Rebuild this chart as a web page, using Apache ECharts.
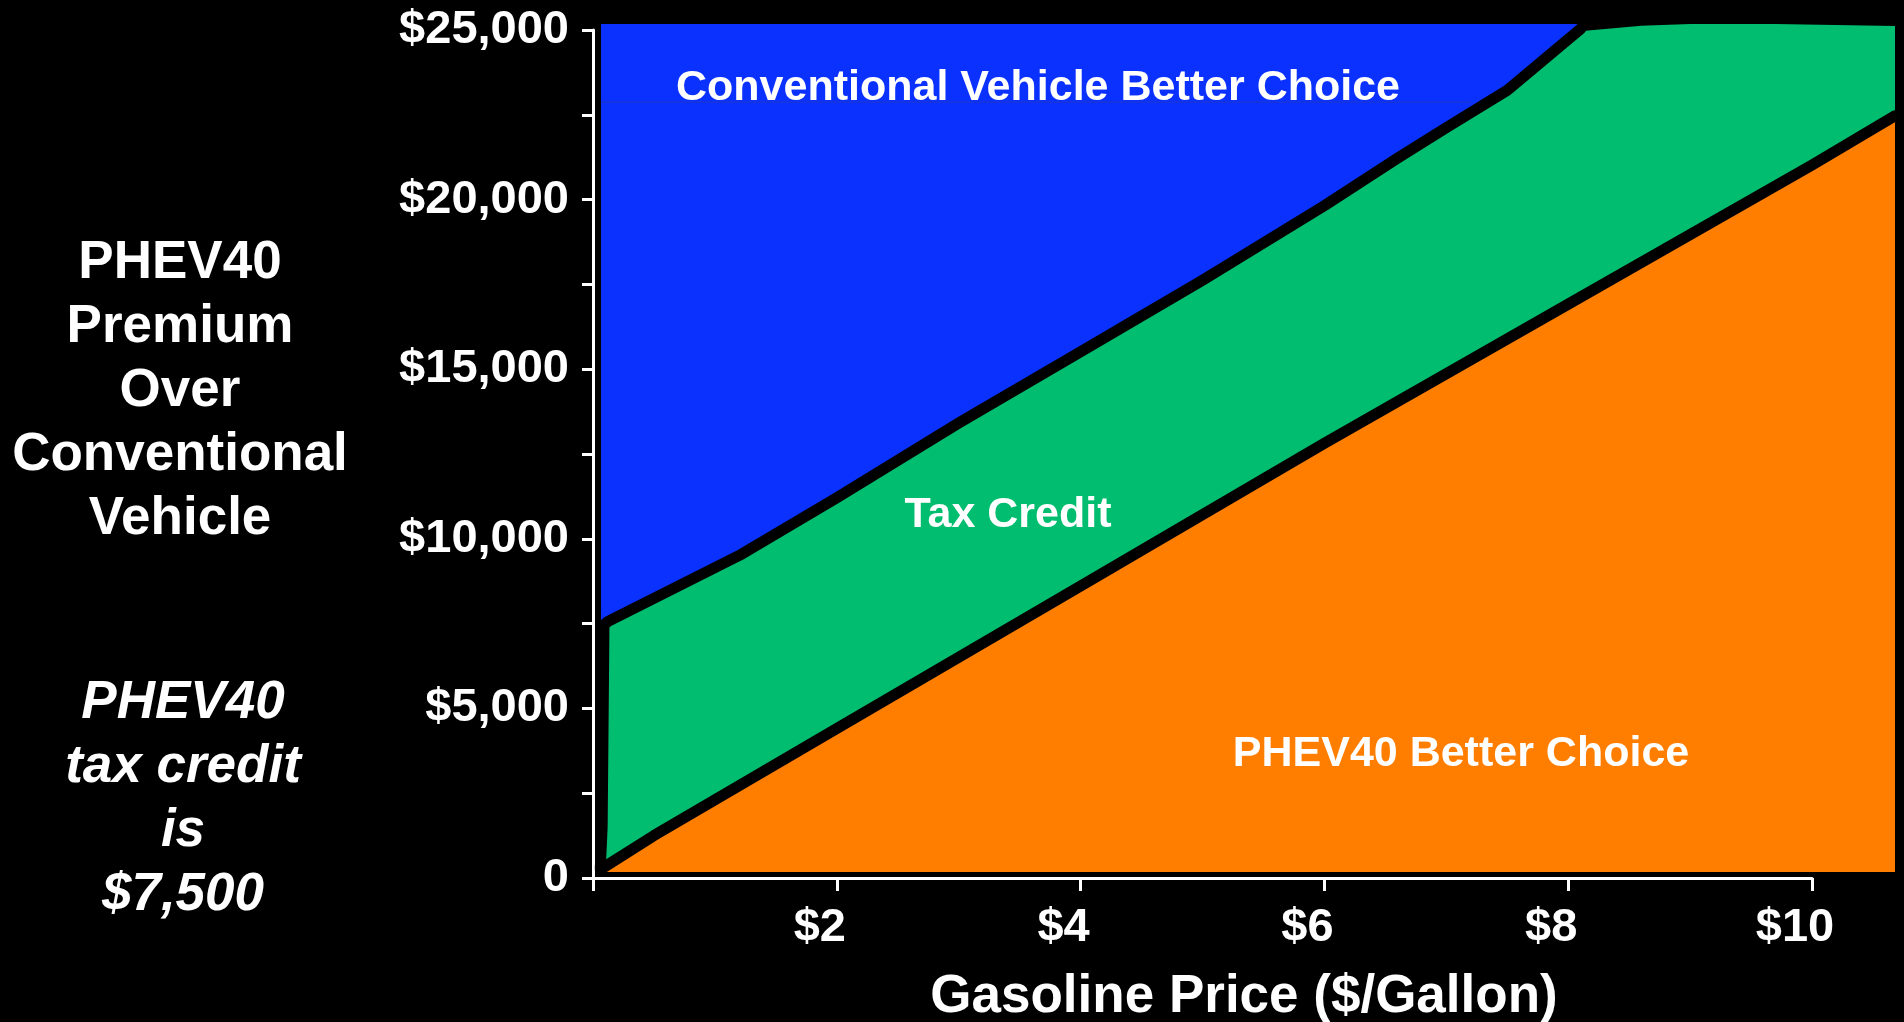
<!DOCTYPE html>
<html>
<head>
<meta charset="utf-8">
<script src="https://cdn.jsdelivr.net/npm/echarts@6/dist/echarts.min.js"></script>
<style>
html,body{margin:0;padding:0;background:#000;}
#chart{width:1904px;height:1022px;}
</style>
</head>
<body>
<div id="chart"></div>
<script>
// ---- Data (x = gasoline price $/gal, y = PHEV40 premium $) ----
const xTickValues = [0, 2, 4, 6, 8, 10];
const yTickValues = [0, 5000, 10000, 15000, 20000, 25000];

// left (vertical) edge of the tax-credit band
const edgeX = [0.06, 0.075, 0.09];
const edgeY = [300, 1500, 7450];

// upper boundary: conventional vehicle better choice above this line
const upperX = [0.12, 1.2, 2.0, 3.0, 4.0, 5.0, 6.0, 6.6, 7.0, 7.5, 8.1, 8.13];
const upperY = [7550, 9500, 11200, 13400, 15500, 17600, 19800, 21200, 22100, 23200, 25000, 25150];

// top of the green band beyond the upper line
const greenTopX = [8.14, 8.6, 9.0, 9.7, 10.68];
const greenTopY = [24950, 25100, 25150, 25150, 25090];

// lower boundary: PHEV40 better choice below this line
const lowerX = [0.06, 0.5, 2.0, 4.0, 6.0, 8.0, 10.0, 10.68];
const lowerY = [250, 1250, 4400, 8600, 12800, 16900, 21000, 22450];

// faint line inside the blue region
const faintX = [0.07, 7.2];
const faintY = [22850, 22850];

const zip = (xs, ys) => xs.map((x, i) => [x, ys[i]]);

const FONT = '"Liberation Sans", Arial, Helvetica, sans-serif';
const BLUE = '#0B31FF', GREEN = '#01BD6F', ORANGE = '#FF7E00';

const blueFill = [[0.066, 7550]].concat(zip(upperX, upperY));
const greenFill = zip(edgeX, edgeY).concat(zip(upperX, upperY), zip(greenTopX, greenTopY));
const orangeFill = [[0.05, 180]].concat(zip(lowerX, lowerY));
const upperLine = zip(edgeX, edgeY).concat(zip(upperX, upperY));
const lowerLine = zip(lowerX, lowerY);

const chart = echarts.init(document.getElementById('chart'), null, {renderer: 'canvas'});

const areaSeries = (data, color, origin) => ({
  type: 'line', xAxisIndex: 1, yAxisIndex: 1, data: data,
  symbol: 'none', silent: true,
  lineStyle: {width: 0, color: color},
  areaStyle: {color: color, opacity: 1, origin: origin}
});
const blackLine = (data) => ({
  type: 'line', xAxisIndex: 1, yAxisIndex: 1, data: data,
  symbol: 'none', silent: true,
  lineStyle: {width: 11, color: '#000', cap: 'round', join: 'round'}
});

const option = {
  backgroundColor: '#000',
  animation: false,
  grid: [
    {left: 593, right: 92, top: 30, bottom: 144},
    {left: 593, right: 9, top: 24, bottom: 144}
  ],
  xAxis: [
    {
      type: 'value', gridIndex: 0, min: 0, max: 10, interval: 2,
      axisLine: {show: true, lineStyle: {color: '#fff', width: 3}},
      axisTick: {show: true, length: 13, lineStyle: {color: '#fff', width: 3}},
      splitLine: {show: false},
      axisLabel: {
        color: '#fff', fontSize: 47, fontWeight: 'bold', fontFamily: FONT, margin: 27,
        padding: [0, 34, 0, 0],
        formatter: v => (xTickValues.indexOf(v) > 0 ? '$' + v : '')
      }
    },
    {type: 'value', gridIndex: 1, min: 0, max: 10.68, show: false}
  ],
  yAxis: [
    {
      type: 'value', gridIndex: 0, min: 0, max: 25000, interval: 2500,
      axisLine: {show: true, lineStyle: {color: '#fff', width: 3}},
      axisTick: {show: true, length: 11, lineStyle: {color: '#fff', width: 3}},
      splitLine: {show: false},
      axisLabel: {
        color: '#fff', fontSize: 47, fontWeight: 'bold', fontFamily: FONT, margin: 24,
        padding: [8, 0, 0, 0],
        showMinLabel: true, showMaxLabel: true,
        formatter: v => {
          if (yTickValues.indexOf(v) < 0) return '';
          return v === 0 ? '0' : '$' + v.toLocaleString('en-US');
        }
      }
    },
    {type: 'value', gridIndex: 1, min: 0, max: 25150, show: false}
  ],
  series: [
    areaSeries(blueFill, BLUE, 'end'),
    areaSeries(greenFill, GREEN, 180),
    areaSeries(orangeFill, ORANGE, 180),
    {
      type: 'line', xAxisIndex: 1, yAxisIndex: 1, data: zip(faintX, faintY),
      symbol: 'none', silent: true, lineStyle: {width: 1, color: '#2238c4'}
    },
    blackLine(upperLine),
    blackLine(lowerLine)
  ],
  graphic: [
    {type: 'text', x: 180, y: 391, style: {
      text: 'PHEV40\nPremium\nOver\nConventional\nVehicle', fill: '#fff',
      font: 'bold 53px ' + FONT, lineHeight: 64, align: 'center', verticalAlign: 'middle'}},
    {type: 'text', x: 183, y: 799, style: {
      text: 'PHEV40\ntax credit\nis\n$7,500', fill: '#fff',
      font: 'italic bold 53px ' + FONT, lineHeight: 64, align: 'center', verticalAlign: 'middle'}},
    {type: 'text', x: 1244, y: 997, style: {
      text: 'Gasoline Price ($/Gallon)', fill: '#fff',
      font: 'bold 53px ' + FONT, align: 'center', verticalAlign: 'middle'}},
    {type: 'text', x: 1038, y: 88, z: 100, style: {
      text: 'Conventional Vehicle Better Choice', fill: '#fff',
      font: 'bold 43px ' + FONT, align: 'center', verticalAlign: 'middle'}},
    {type: 'text', x: 1008, y: 515, z: 100, style: {
      text: 'Tax Credit', fill: '#fff',
      font: 'bold 43px ' + FONT, align: 'center', verticalAlign: 'middle'}},
    {type: 'text', x: 1461, y: 754, z: 100, style: {
      text: 'PHEV40 Better Choice', fill: '#fff',
      font: 'bold 43px ' + FONT, align: 'center', verticalAlign: 'middle'}}
  ]
};
chart.setOption(option);
</script>
</body>
</html>
